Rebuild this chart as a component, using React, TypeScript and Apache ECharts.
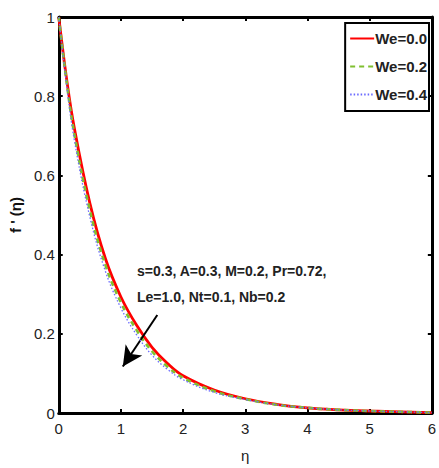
import React, { useEffect, useRef } from "react";
import * as echarts from "echarts";

const etas = [0, 0.125, 0.25, 0.5, 0.75, 1, 1.25, 1.5, 1.75, 2, 2.5, 3, 3.5, 4, 4.5, 5, 5.5, 6];
const we00 = [1.0, 0.845, 0.72, 0.53, 0.39, 0.293, 0.222, 0.166, 0.125, 0.094, 0.058, 0.036, 0.022, 0.013, 0.008, 0.005, 0.003, 0.001];
const we02 = [1.0, 0.838, 0.705, 0.512, 0.374, 0.279, 0.21, 0.156, 0.117, 0.089, 0.055, 0.035, 0.021, 0.013, 0.008, 0.005, 0.003, 0.001];
const we04 = [1.0, 0.83, 0.69, 0.495, 0.358, 0.265, 0.198, 0.146, 0.11, 0.084, 0.052, 0.034, 0.021, 0.013, 0.008, 0.005, 0.003, 0.001];
const seriesNames = ["We=0.0", "We=0.2", "We=0.4"];
const xTicks = [0, 1, 2, 3, 4, 5, 6];
const yTicks = [0, 0.2, 0.4, 0.6, 0.8, 1];
const arrowFrom = [1.585, 0.2475];
const arrowTo = [1.03, 0.1175];
const noteLines = ["s=0.3, A=0.3, M=0.2, Pr=0.72,", "Le=1.0, Nt=0.1, Nb=0.2"];

const FONT = "Liberation Sans, Arial, sans-serif";

export default function App() {
  const ref = useRef<HTMLDivElement>(null);
  useEffect(() => {
    if (!ref.current) return;
    const chart = echarts.init(ref.current, undefined, { renderer: "svg" });
    const pairs = (vals: number[]) => etas.map((e, i) => [e, vals[i]]);
    const axisCommon = {
      type: "value" as const,
      axisLine: { show: true, onZero: false, lineStyle: { color: "#000", width: 3 } },
      axisTick: { show: true, inside: true, length: 4, lineStyle: { color: "#000", width: 2 } },
      splitLine: { show: false },
    };
    chart.setOption({
      animation: false,
      backgroundColor: "#fff",
      grid: { left: 53, top: 17, right: 6, bottom: 51, containLabel: false },
      xAxis: [
        {
          ...axisCommon,
          position: "bottom",
          min: 0,
          max: 6,
          interval: 1,
          name: "η",
          nameLocation: "middle",
          nameGap: 35,
          nameTextStyle: { fontFamily: FONT, fontSize: 15, color: "#222" },
          axisLabel: { fontFamily: FONT, fontSize: 15, color: "#222", margin: 8,
            formatter: (v: number) => (xTicks.includes(v) ? String(v) : "") },
        },
        {
          ...axisCommon,
          position: "top",
          min: 0,
          max: 6,
          interval: 1,
          axisLabel: { show: false },
        },
      ],
      yAxis: [
        {
          ...axisCommon,
          position: "left",
          min: 0,
          max: 1,
          interval: 0.2,
          name: "f ' (η)",
          nameLocation: "middle",
          nameGap: 30,
          nameRotate: 90,
          nameTextStyle: { fontFamily: FONT, fontSize: 15, fontWeight: "bold", color: "#111" },
          axisLabel: { fontFamily: FONT, fontSize: 15, color: "#222", margin: 4,
            formatter: (v: number) => {
              const t = yTicks.find((y) => Math.abs(y - v) < 1e-9);
              return t === undefined ? "" : String(Number(t.toFixed(1)));
            } },
        },
        {
          ...axisCommon,
          position: "right",
          min: 0,
          max: 1,
          interval: 0.2,
          axisLabel: { show: false },
        },
      ],
      legend: {
        show: true,
        orient: "vertical",
        right: 10,
        top: 23,
        data: seriesNames,
        backgroundColor: "#fff",
        borderColor: "#000",
        borderWidth: 2,
        padding: [8, 2, 9, 4],
        itemGap: 13,
        itemWidth: 24,
        itemHeight: 14,
        itemStyle: { opacity: 0 },
        textStyle: { fontFamily: FONT, fontSize: 15, fontWeight: "bold", color: "#222", padding: [0, 0, 0, -4] },
      },
      graphic: [
        {
          type: "text",
          left: 137,
          top: 258,
          style: {
            text: noteLines.join("\n"),
            font: "bold 14px " + FONT,
            fill: "#222",
            lineHeight: 26,
          },
        },
      ],
      series: [
        {
          name: seriesNames[0],
          type: "line",
          data: pairs(we00),
          smooth: 0.4,
          symbol: "none",
          showSymbol: false,
          z: 3,
          lineStyle: { color: "#ff0000", width: 2.8, type: "solid" },
          itemStyle: { color: "#ff0000" },
          markLine: {
            silent: true,
            symbol: ["none", "arrow"],
            symbolSize: [15, 20],
            label: { show: false },
            lineStyle: { color: "#000", width: 2, type: "solid" },
            data: [[{ coord: arrowFrom }, { coord: arrowTo }]],
          },
        },
        {
          name: seriesNames[1],
          type: "line",
          data: pairs(we02),
          smooth: 0.4,
          symbol: "none",
          showSymbol: false,
          z: 4,
          lineStyle: { color: "#80bf30", width: 2.6, type: [5, 4] },
          itemStyle: { color: "#80bf30" },
        },
        {
          name: seriesNames[2],
          type: "line",
          data: pairs(we04),
          smooth: 0.4,
          symbol: "none",
          showSymbol: false,
          z: 5,
          lineStyle: { color: "#6a6aff", width: 1.3, type: [1.5, 2] },
          itemStyle: { color: "#6a6aff" },
        },
      ],
    });
    return () => chart.dispose();
  }, []);
  return <div ref={ref} style={{ width: 439, height: 468, position: "fixed", left: 0, top: 0 }} />;
}
